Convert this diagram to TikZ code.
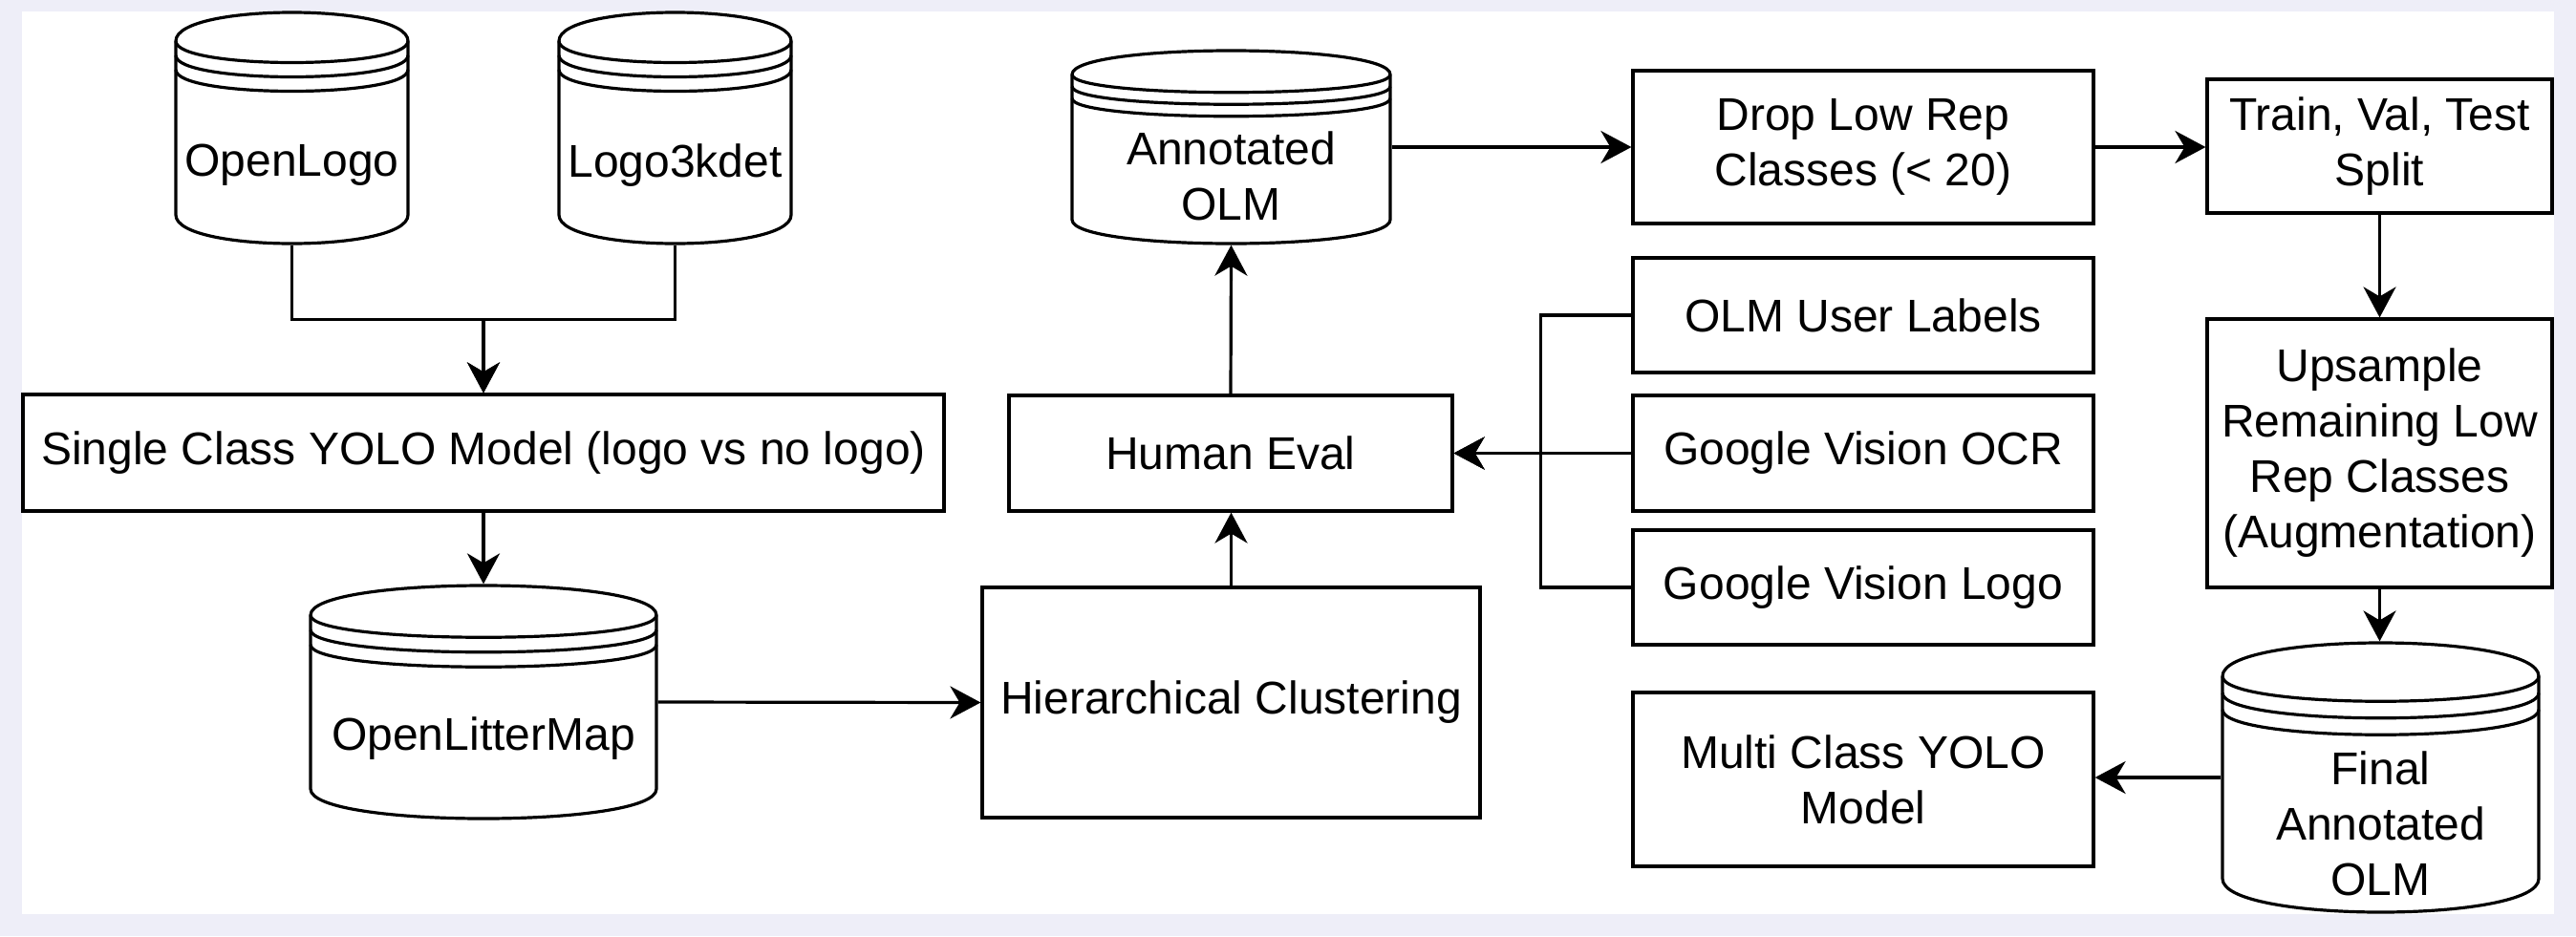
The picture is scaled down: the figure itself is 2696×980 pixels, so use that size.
\documentclass[tikz,border=0pt]{standalone}
\usepackage{fontspec}
\setmainfont{Liberation Sans}
\usetikzlibrary{arrows.meta}
\definecolor{bgl}{RGB}{238,238,248}
% #1 name, #2 x1, #3 y1, #4 x2, #5 y2, #6 dy, #7 text centre y, #8 text
\newcommand{\dbcyl}[8]{%
  \draw[ln,fill=white] ({#2},{#3+#6}) .. controls ({#2},{#3-#6/3}) and ({#4},{#3-#6/3}) .. ({#4},{#3+#6})
     -- ({#4},{#5-#6}) .. controls ({#4},{#5+#6/3}) and ({#2},{#5+#6/3}) .. ({#2},{#5-#6}) -- cycle;
  \draw[ln] ({#2},{#3+#6}) .. controls ({#2},{#3+2*#6}) and ({#4},{#3+2*#6}) .. ({#4},{#3+#6});
  \draw[ln] ({#2},{#3+1.5*#6}) .. controls ({#2},{#3+2.5*#6}) and ({#4},{#3+2.5*#6}) .. ({#4},{#3+1.5*#6});
  \draw[ln] ({#2},{#3+2*#6}) .. controls ({#2},{#3+3*#6}) and ({#4},{#3+3*#6}) .. ({#4},{#3+2*#6});
  \node[cyl, minimum width={(#4-#2)*0.5pt}, minimum height={(#5-#3)*0.5pt}] (#1) at ({(#2+#4)/2},{(#3+#5)/2}) {};
  \node[txt] (#1-t) at ({(#2+#4)/2},{#7}) {#8};
}
\begin{document}
\begin{tikzpicture}[x=0.5pt,y=-0.5pt,
  ln/.style={line width=1.6pt,draw=black,line join=miter},
  txt/.style={font=\fontsize{24pt}{29pt}\selectfont,align=center,inner sep=0pt,text=black},
  box/.style={ln,fill=white,rectangle,inner sep=0pt,outer sep=0.8pt,font=\fontsize{24pt}{29pt}\selectfont,align=center,text=black},
  sz/.style 2 args={minimum width=#1*0.5pt,minimum height=#2*0.5pt},
  cyl/.style={rectangle,draw=none,inner sep=0pt,outer sep=0.8pt},
  arr/.style={ln,-{Stealth[length=16pt,width=17pt,inset=5pt]}}]
\fill[bgl] (0,0) rectangle (2696,980);
\fill[white] (23,12) rectangle (2673,957);
\useasboundingbox (0,0) rectangle (2696,980);

% data stores
\dbcyl{ol}{184}{13}{427}{255}{30}{173}{OpenLogo}
\dbcyl{lk}{585}{13}{828}{255}{30}{173}{Logo3kdet}
\dbcyl{aolm}{1122}{53}{1455}{255}{25}{184}{Annotated\\OLM}
\dbcyl{olm}{325}{613}{687}{857}{31}{773}{OpenLitterMap}
\dbcyl{fin}{2326}{673}{2657}{955}{35}{862}{Final\\Annotated\\OLM}

% process boxes
\node[box,sz={964}{122}] (sc) at (506,474) {Single Class YOLO Model (logo vs no logo)};
\node[box,sz={464}{121}] (he) at (1288,474.5) {Human Eval};
\node[box,sz={521}{241}] (hc) at (1288.5,735.5) {Hierarchical Clustering};
\node[box,sz={482}{160}] (drop) at (1950,154) {Drop Low Rep\\Classes (< 20)};
\node[box,sz={361}{140}] (tr) at (2490.5,153) {Train, Val, Test\\Split};
\node[box,sz={361}{281}] (up) at (2490.5,474.5) {Upsample\\Remaining Low\\Rep Classes\\(Augmentation)};
\node[box,sz={482}{120}] (oul) at (1950,330) {OLM User Labels};
\node[box,sz={482}{121}] (gocr) at (1950,474.5) {Google Vision OCR};
\node[box,sz={482}{120}] (glogo) at (1950,615) {Google Vision Logo};
\node[box,sz={482}{182}] (mc) at (1950,816) {Multi Class YOLO\\Model};

% connectors
\draw[arr] (ol.south) -- ++(0,78) -| (sc.north);
\draw[arr] (lk.south) -- ++(0,78) -| (sc.north);
\draw[arr] (sc.south) -- (olm.north);
\draw[arr] (olm.east) -- (hc.west);
\draw[arr] (hc.north) -- (hc.north |- he.south);
\draw[arr] (he.north) -- (aolm.south);
\draw[arr] (aolm.east) -- (drop.west);
\draw[arr] (drop.east) -- (drop.east -| tr.west);
\draw[arr] (tr.south) -- (up.north);
\draw[arr] (up.south) -- (up.south |- fin.north);
\draw[arr] (fin.west) -- (fin.west -| mc.east);
\draw[arr] (gocr.west) -- (he.east);
\draw[arr] (oul.west) -- ++(-95,0) |- (he.east);
\draw[arr] (glogo.west) -- ++(-95,0) |- (he.east);
\end{tikzpicture}
\end{document}
